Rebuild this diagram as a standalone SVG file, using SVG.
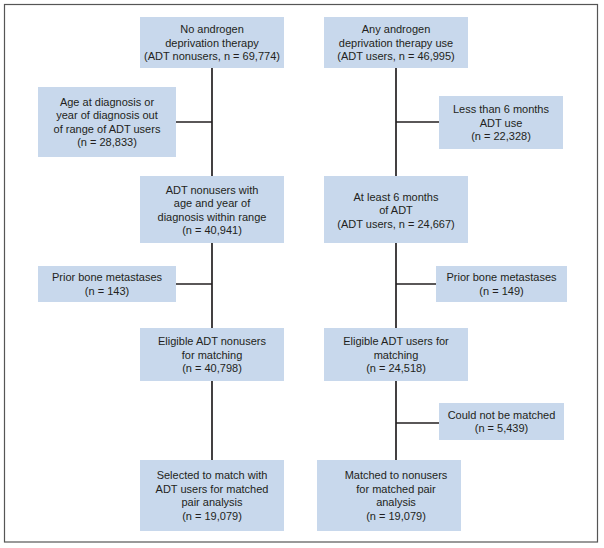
<svg xmlns="http://www.w3.org/2000/svg" width="604" height="548" viewBox="0 0 604 548">
<style>
.box{fill:#c8d8ec;}
.t{font-family:"Liberation Sans",Arial,sans-serif;font-size:11px;fill:#231f20;text-anchor:middle;}
.ln{stroke:#231f20;stroke-width:1.7;fill:none;}
</style>
<rect x="0" y="0" width="604" height="548" fill="#ffffff"/>
<rect x="4.5" y="4.5" width="593" height="537.5" fill="none" stroke="#555555" stroke-width="1.2"/>
<g id="connectors">
<line class="ln" x1="212" y1="68" x2="212" y2="460"/>
<line class="ln" x1="396" y1="68" x2="396" y2="460"/>
<line class="ln" x1="176" y1="122" x2="212" y2="122"/>
<line class="ln" x1="176" y1="284" x2="212" y2="284"/>
<line class="ln" x1="396" y1="122" x2="439" y2="122"/>
<line class="ln" x1="396" y1="284" x2="436" y2="284"/>
<line class="ln" x1="396" y1="423" x2="439" y2="423"/>
</g>
<g id="no-adt">
<rect class="box" x="140" y="17" width="144" height="51"/>
<text class="t" x="212" y="33">No androgen</text>
<text class="t" x="212" y="46.5">deprivation therapy</text>
<text class="t" x="212" y="60">(ADT nonusers, n = 69,774)</text>
</g>
<g id="any-adt">
<rect class="box" x="324" y="17" width="144" height="51"/>
<text class="t" x="396" y="33">Any androgen</text>
<text class="t" x="396" y="46.5">deprivation therapy use</text>
<text class="t" x="396" y="60">(ADT users, n = 46,995)</text>
</g>
<g id="age-out">
<rect class="box" x="38" y="87" width="138" height="70"/>
<text class="t" x="107" y="105.75">Age at diagnosis or</text>
<text class="t" x="107" y="119.25">year of diagnosis out</text>
<text class="t" x="107" y="132.75">of range of ADT users</text>
<text class="t" x="107" y="146.25">(n = 28,833)</text>
</g>
<g id="less-6">
<rect class="box" x="439" y="96" width="124" height="53"/>
<text class="t" x="501" y="113">Less than 6 months</text>
<text class="t" x="501" y="126.5">ADT use</text>
<text class="t" x="501" y="140">(n = 22,328)</text>
</g>
<g id="nonusers-range">
<rect class="box" x="140" y="176" width="144" height="67"/>
<text class="t" x="212" y="193.75">ADT nonusers with</text>
<text class="t" x="212" y="207.25">age and year of</text>
<text class="t" x="212" y="220.75">diagnosis within range</text>
<text class="t" x="212" y="234.25">(n = 40,941)</text>
</g>
<g id="at-least-6">
<rect class="box" x="324" y="176" width="144" height="67"/>
<text class="t" x="396" y="200.5">At least 6 months</text>
<text class="t" x="396" y="214">of ADT</text>
<text class="t" x="396" y="227.5">(ADT users, n = 24,667)</text>
</g>
<g id="prior-left">
<rect class="box" x="38" y="266" width="138" height="36"/>
<text class="t" x="107" y="281.25">Prior bone metastases</text>
<text class="t" x="107" y="294.75">(n = 143)</text>
</g>
<g id="prior-right">
<rect class="box" x="436" y="266" width="131" height="36"/>
<text class="t" x="501.5" y="281.25">Prior bone metastases</text>
<text class="t" x="501.5" y="294.75">(n = 149)</text>
</g>
<g id="eligible-nonusers">
<rect class="box" x="140" y="328" width="144" height="53"/>
<text class="t" x="212" y="345">Eligible ADT nonusers</text>
<text class="t" x="212" y="358.5">for matching</text>
<text class="t" x="212" y="372">(n = 40,798)</text>
</g>
<g id="eligible-users">
<rect class="box" x="324" y="328" width="144" height="53"/>
<text class="t" x="396" y="345">Eligible ADT users for</text>
<text class="t" x="396" y="358.5">matching</text>
<text class="t" x="396" y="372">(n = 24,518)</text>
</g>
<g id="not-matched">
<rect class="box" x="439" y="403" width="125" height="37"/>
<text class="t" x="501.5" y="418.75">Could not be matched</text>
<text class="t" x="501.5" y="432.25">(n = 5,439)</text>
</g>
<g id="selected">
<rect class="box" x="140" y="460" width="144" height="71"/>
<text class="t" x="212" y="479.25">Selected to match with</text>
<text class="t" x="212" y="492.75">ADT users for matched</text>
<text class="t" x="212" y="506.25">pair analysis</text>
<text class="t" x="212" y="519.75">(n = 19,079)</text>
</g>
<g id="matched">
<rect class="box" x="317" y="460" width="144" height="71"/>
<text class="t" x="396" y="479.25">Matched to nonusers</text>
<text class="t" x="396" y="492.75">for matched pair</text>
<text class="t" x="396" y="506.25">analysis</text>
<text class="t" x="396" y="519.75">(n = 19,079)</text>
</g>
</svg>
